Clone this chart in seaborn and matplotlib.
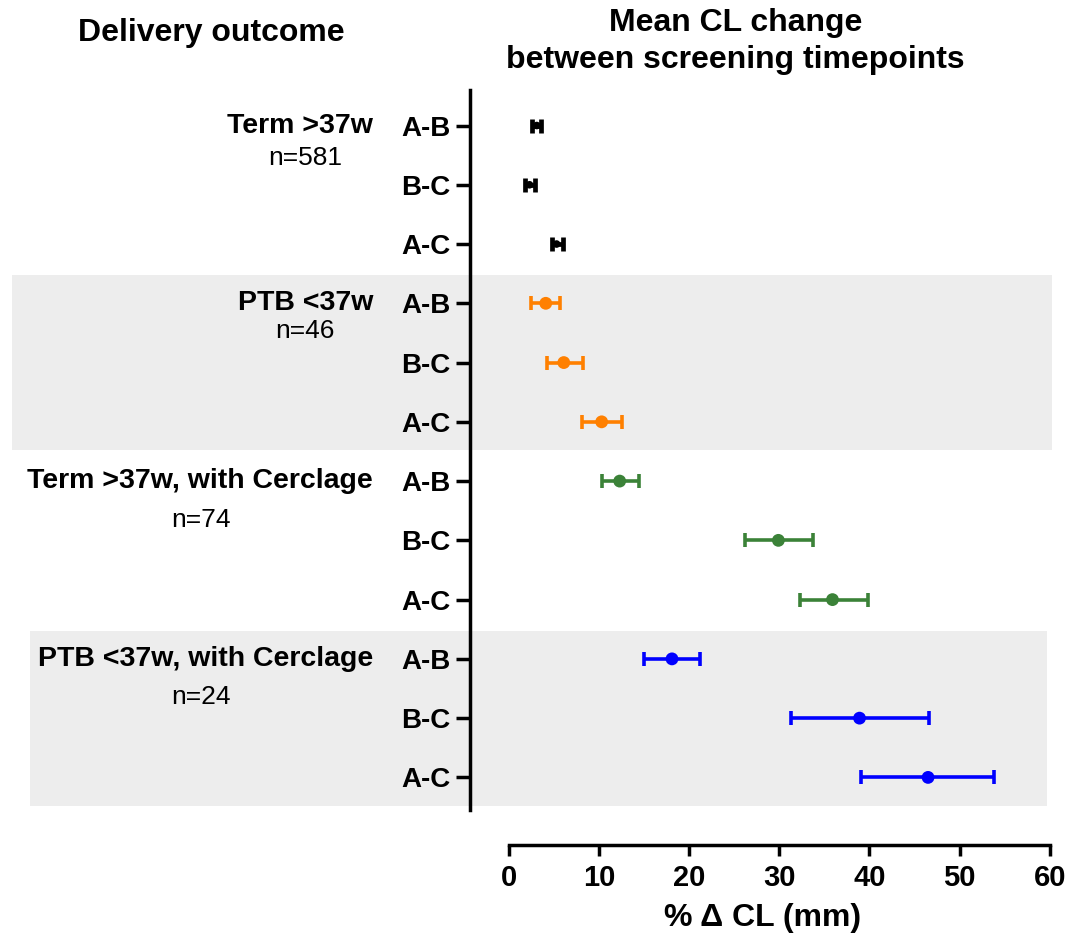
import numpy as np
import pandas as pd
import matplotlib
matplotlib.use("Agg")
import matplotlib.pyplot as plt
import matplotlib.transforms as mtransforms
from matplotlib.patches import Rectangle
import seaborn as sns

# Data
groups = ["Term >37w", "PTB <37w", "Term >37w, with Cerclage", "PTB <37w, with Cerclage"]
n_labels = ["n=581", "n=46", "n=74", "n=24"]
intervals = ["A-B", "B-C", "A-C"]
means = [3.1, 2.3, 5.3, 4.1, 6.1, 10.3, 12.3, 29.9, 35.9, 18.1, 38.9, 46.5]
lower = [2.6, 1.8, 4.8, 2.5, 4.2, 8.1, 10.3, 26.2, 32.3, 15.0, 31.3, 39.1]
upper = [3.6, 2.9, 6.0, 5.7, 8.2, 12.6, 14.4, 33.7, 39.8, 21.2, 46.6, 53.8]
colors = ["#000000", "#ff8000", "#3b8238", "#0000ff"]

df = pd.DataFrame({
    "group": np.repeat(groups, len(intervals)),
    "interval": intervals * len(groups),
    "mean": means,
    "low": lower,
    "high": upper,
})
df["row"] = np.arange(len(df))

sns.set_style("white")
plt.rcParams["font.family"] = ["Liberation Sans", "DejaVu Sans"]
plt.rcParams["font.weight"] = "bold"
for key in ["text.color", "axes.labelcolor", "xtick.color", "ytick.color", "axes.edgecolor"]:
    plt.rcParams[key] = "black"

fig = plt.figure(figsize=(10.86, 9.4), dpi=100)
ax = fig.add_axes([0.4328, 0.1383, 0.538, 0.766])
ax.patch.set_alpha(0)

# shaded bands behind the 2nd and 4th groups (extend into the label area)
trans = mtransforms.blended_transform_factory(fig.transFigure, ax.transData)
for gi, (x0, x1) in {1: (0.011, 0.969), 3: (0.028, 0.964)}.items():
    r0 = gi * 3 - 0.47
    ax.add_patch(Rectangle((x0, r0), x1 - x0, 2.95, transform=trans,
                           facecolor="#ededed", edgecolor="none", zorder=0,
                           clip_on=False))

for gi, g in enumerate(groups):
    sub = df[df["group"] == g]
    lw = 3.4 if gi == 0 else 2.6
    ax.errorbar(sub["mean"], sub["row"],
                xerr=[sub["mean"] - sub["low"], sub["high"] - sub["mean"]],
                fmt="none", ecolor=colors[gi], elinewidth=lw, capsize=5,
                capthick=lw, zorder=3)

sns.scatterplot(data=df, x="mean", y="row", hue="group", palette=colors,
                size="group", sizes={groups[0]: 30, groups[1]: 85, groups[2]: 85, groups[3]: 85},
                edgecolor="none", legend=False, ax=ax, zorder=4)

ax.set_xlim(-4.3, 60.5)
ax.set_ylim(11.55, -0.6)
ax.set_yticks(df["row"])
ax.set_yticklabels(df["interval"])
ax.set_xticks(np.arange(0, 61, 10))
ax.tick_params(axis="y", length=10, width=2.5, pad=4, left=True, labelsize=20)
ax.tick_params(axis="x", length=8, width=2.5, pad=6, bottom=True, labelsize=21)
for lab in ax.get_xticklabels() + ax.get_yticklabels():
    lab.set_fontweight("bold")
ax.set_xlabel("% \u0394 CL (mm)", fontsize=23, fontweight="bold", labelpad=8)
ax.set_ylabel("")

for side in ["top", "right"]:
    ax.spines[side].set_visible(False)
ax.spines["left"].set_linewidth(2.5)
ax.spines["bottom"].set_linewidth(2.5)
ax.spines["bottom"].set_position(("outward", 25))
ax.spines["bottom"].set_bounds(0, 60)

# group labels on the left
n_x = [0.281, 0.281, 0.185, 0.185]
n_dy = [0.55, 0.47, 0.65, 0.65]
for gi, g in enumerate(groups):
    ax.annotate(g, xy=(0.3435, gi * 3), xycoords=trans, ha="right", va="center",
                fontsize=20.5, fontweight="bold", annotation_clip=False)
    ax.annotate(n_labels[gi], xy=(n_x[gi], gi * 3 + n_dy[gi]), xycoords=trans,
                ha="center", va="center", fontsize=19, fontweight="normal",
                annotation_clip=False)

fig.text(0.195, 0.965, "Delivery outcome", ha="center", va="center",
         fontsize=23, fontweight="bold")
fig.text(0.677, 0.956, "Mean CL change\nbetween screening timepoints", ha="center",
         va="center", fontsize=23, fontweight="bold", linespacing=1.3)

fig.savefig("out.png", dpi=100)
